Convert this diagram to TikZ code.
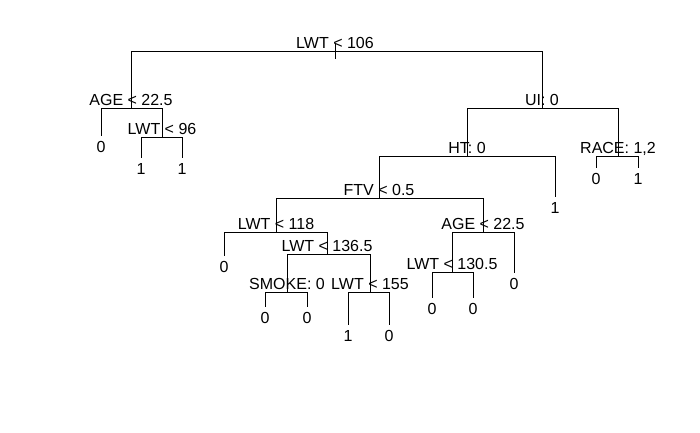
\documentclass[tikz,border=0pt]{standalone}
\usepackage{fontspec}
\setmainfont{Liberation Sans}

\begin{document}
\begin{tikzpicture}[
    x = 1pt, y = -1pt,
    every node/.style = {font=\fontsize{16}{18}\selectfont},
    split/.style = {anchor=base, inner sep=0pt, yshift=3pt},
    leaf/.style = {anchor=north, inner sep=0pt, yshift=-5.5pt},
    edge/.style = {line width=1pt, color=black}
]
\useasboundingbox[fill=white] (0,0) rectangle (700,432);

%% Split points
\coordinate (stem)   at (335,44);
\coordinate (root)   at (335,51);
\coordinate (age1)   at (131,108);
\coordinate (lwt96)  at (162,137);
\coordinate (ui)     at (542,108);
\coordinate (ht)     at (467,156);
\coordinate (race)   at (618,156);
\coordinate (ftv)    at (379,198);
\coordinate (lwt118) at (276,232);
\coordinate (lwt136) at (327,254);
\coordinate (smoke)  at (287,292);
\coordinate (lwt155) at (370,292);
\coordinate (age2)   at (483,232);
\coordinate (lwt130) at (452,272);

%% Leaf ends
\coordinate (a0)  at (101,136);
\coordinate (b1)  at (141,158);
\coordinate (b2)  at (182,158);
\coordinate (r0)  at (596,168);
\coordinate (r1)  at (638,168);
\coordinate (h1)  at (555,197);
\coordinate (l0)  at (224,256);
\coordinate (s0)  at (265,307);
\coordinate (s1)  at (307,307);
\coordinate (w1)  at (348,325);
\coordinate (w0)  at (389,325);
\coordinate (c0)  at (432,298);
\coordinate (c1)  at (473,298);
\coordinate (g0)  at (514,273);

%% Branches
\draw[edge] (stem) -- ++(0,15);
\draw[edge] (root)   -| (age1);
\draw[edge] (root)   -| (ui);
\draw[edge] (age1)   -| (a0);
\draw[edge] (age1)   -| (lwt96);
\draw[edge] (lwt96)  -| (b1);
\draw[edge] (lwt96)  -| (b2);
\draw[edge] (ui)     -| (ht);
\draw[edge] (ui)     -| (race);
\draw[edge] (race)   -| (r0);
\draw[edge] (race)   -| (r1);
\draw[edge] (ht)     -| (ftv);
\draw[edge] (ht)     -| (h1);
\draw[edge] (ftv)    -| (lwt118);
\draw[edge] (ftv)    -| (age2);
\draw[edge] (lwt118) -| (l0);
\draw[edge] (lwt118) -| (lwt136);
\draw[edge] (lwt136) -| (smoke);
\draw[edge] (lwt136) -| (lwt155);
\draw[edge] (smoke)  -| (s0);
\draw[edge] (smoke)  -| (s1);
\draw[edge] (lwt155) -| (w1);
\draw[edge] (lwt155) -| (w0);
\draw[edge] (age2)   -| (lwt130);
\draw[edge] (age2)   -| (g0);
\draw[edge] (lwt130) -| (c0);
\draw[edge] (lwt130) -| (c1);

%% Split labels
\node[split] (root-t)   at (root)   {LWT < 106};
\node[split] (age1-t)   at (age1)   {AGE < 22.5};
\node[split] (lwt96-t)  at (lwt96)  {LWT < 96};
\node[split] (ui-t)     at (ui)     {UI: 0};
\node[split] (ht-t)     at (ht)     {HT: 0};
\node[split] (race-t)   at (race)   {RACE: 1,2};
\node[split] (ftv-t)    at (ftv)    {FTV < 0.5};
\node[split] (lwt118-t) at (lwt118) {LWT < 118};
\node[split] (lwt136-t) at (lwt136) {LWT < 136.5};
\node[split] (smoke-t)  at (smoke)  {SMOKE: 0};
\node[split] (lwt155-t) at (lwt155) {LWT < 155};
\node[split] (age2-t)   at (age2)   {AGE < 22.5};
\node[split] (lwt130-t) at (lwt130) {LWT < 130.5};

%% Leaf labels
\node[leaf] (a0-t) at (a0) {0};
\node[leaf] (b1-t) at (b1) {1};
\node[leaf] (b2-t) at (b2) {1};
\node[leaf] (r0-t) at (r0) {0};
\node[leaf] (r1-t) at (r1) {1};
\node[leaf] (h1-t) at (h1) {1};
\node[leaf] (l0-t) at (l0) {0};
\node[leaf] (s0-t) at (s0) {0};
\node[leaf] (s1-t) at (s1) {0};
\node[leaf] (w1-t) at (w1) {1};
\node[leaf] (w0-t) at (w0) {0};
\node[leaf] (c0-t) at (c0) {0};
\node[leaf] (c1-t) at (c1) {0};
\node[leaf] (g0-t) at (g0) {0};

\end{tikzpicture}
\end{document}
